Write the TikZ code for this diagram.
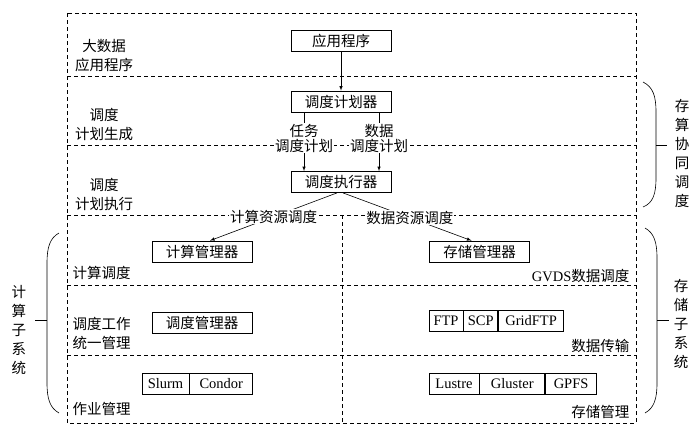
\documentclass[tikz,border=0pt]{standalone}
\usepackage{fontspec}
\setmainfont{Noto Sans CJK SC}
\newfontfamily\lat{Liberation Serif}
\usetikzlibrary{arrows, positioning}

\tikzset{
    box/.style={draw, thick, minimum width=100pt, minimum height=21pt, inner sep=0pt},
    cell/.style={draw, thick, minimum height=21pt, inner sep=0pt},
    layer/.style={dash pattern=on 4pt off 3pt, semithick},
    tag/.style={fill=white, inner sep=1pt, align=center},
    brace/.style={semithick}
}

\begin{document}
\begin{tikzpicture}[x=1pt, y=-1pt, font=\fontsize{14.5}{19}\selectfont]
\useasboundingbox (0,0) rectangle (700,437);

%okvir i slojevi
    \draw[layer] (67,13) rectangle (636,423);
    \draw[layer] (67,76) -- (636,76);
    \draw[layer] (67,145) -- (636,145);
    \draw[layer] (67,215) -- (636,215);
    \draw[layer] (67,285) -- (636,285);
    \draw[layer] (67,355) -- (636,355);
    \draw[layer] (342,215) -- (342,423);

%kutije
    \node[box] (app) at (341,41) {应用程序};
    \node[box] (planner) at (341,101.5) {调度计划器};
    \node[box] (executor) at (341,182) {调度执行器};
    \node[box] (compmgr) at (202,251.5) {计算管理器};
    \node[box] (storemgr) at (479.5,251.5) {存储管理器};
    \node[box] (schedmgr) at (202,322.5) {调度管理器};

    %lijevo dolje
    \node[cell, minimum width=47pt] (slurm) at (165.5,383.5) {\lat Slurm};
    \node[cell, minimum width=63pt, right=0pt of slurm] (condor) {\lat Condor};

    %desno
    \node[cell, minimum width=34pt] (ftp) at (446,321) {\lat FTP};
    \node[cell, minimum width=34pt, right=0pt of ftp] (scp) {\lat SCP};
    \node[cell, minimum width=65pt, right=0pt of scp] (gridftp) {\lat GridFTP};
    \node[cell, minimum width=50pt] (lustre) at (454,383.5) {\lat Lustre};
    \node[cell, minimum width=65pt, right=0pt of lustre] (gluster) {\lat Gluster};
    \node[cell, minimum width=51pt, right=0pt of gluster] (gpfs) {\lat GPFS};

%strelice
    \draw[semithick, -latex] (app) -- (planner);
    \draw[semithick, -latex] ([xshift=-37pt]planner.south) --
        node[tag, pos=0.44] (ltask) {任务\\[-4pt]调度计划} ([xshift=-37pt]executor.north);
    \draw[semithick, -latex] ([xshift=38pt]planner.south) --
        node[tag, pos=0.44] (ldata) {数据\\[-4pt]调度计划} ([xshift=38pt]executor.north);
    \draw[semithick, -latex] ([xshift=-4pt]executor.south) --
        node[tag, pos=0.5] (lcompres) {计算资源调度} ([xshift=8pt]compmgr.north);
    \draw[semithick, -latex] ([xshift=2pt]executor.south) --
        node[tag, pos=0.52] (ldatares) {数据资源调度} ([xshift=-8pt]storemgr.north);

%natpisi slojeva
    \node[align=center] (lapp) at (104,56) {大数据\\应用程序};
    \node[align=center] (lplan) at (104,124.5) {调度\\计划生成};
    \node[align=center] (lexec) at (104,194) {调度\\计划执行};
    \node[anchor=west] (lcomp) at (69,273) {计算调度};
    \node[anchor=west, align=left] (lsched) at (69,333.5) {调度工作\\统一管理};
    \node[anchor=west] (ljob) at (69,409) {作业管理};
    \node[anchor=east] (lgvds) at (633,276) {{\lat GVDS}数据调度};
    \node[anchor=east] (ltrans) at (633,346) {数据传输};
    \node[anchor=east] (lstore) at (633,412) {存储管理};

%zagrade
    \draw[brace] (643,82) .. controls (653,87) and (656,96) .. (656,112)
        -- (656,178) .. controls (656,194) and (653,203) .. (643,207);
    \draw[brace] (656,145) -- (667,145);
    \node[align=center] (lcoop) at (682,153) {存\\算\\协\\同\\调\\度};

    \draw[brace] (645,228) .. controls (654,233) and (657,242) .. (657,258)
        -- (657,383) .. controls (657,399) and (654,408) .. (645,413);
    \draw[brace] (657,320) -- (669,320);
    \node[align=center] (lstoresys) at (681,323.5) {存\\储\\子\\系\\统};

    \draw[brace] (59,233) .. controls (50,238) and (47,247) .. (47,263)
        -- (47,383) .. controls (47,399) and (50,408) .. (59,413);
    \draw[brace] (47,320) -- (35,320);
    \node[align=center] (lcompsys) at (19,329.5) {计\\算\\子\\系\\统};
\end{tikzpicture}
\end{document}
